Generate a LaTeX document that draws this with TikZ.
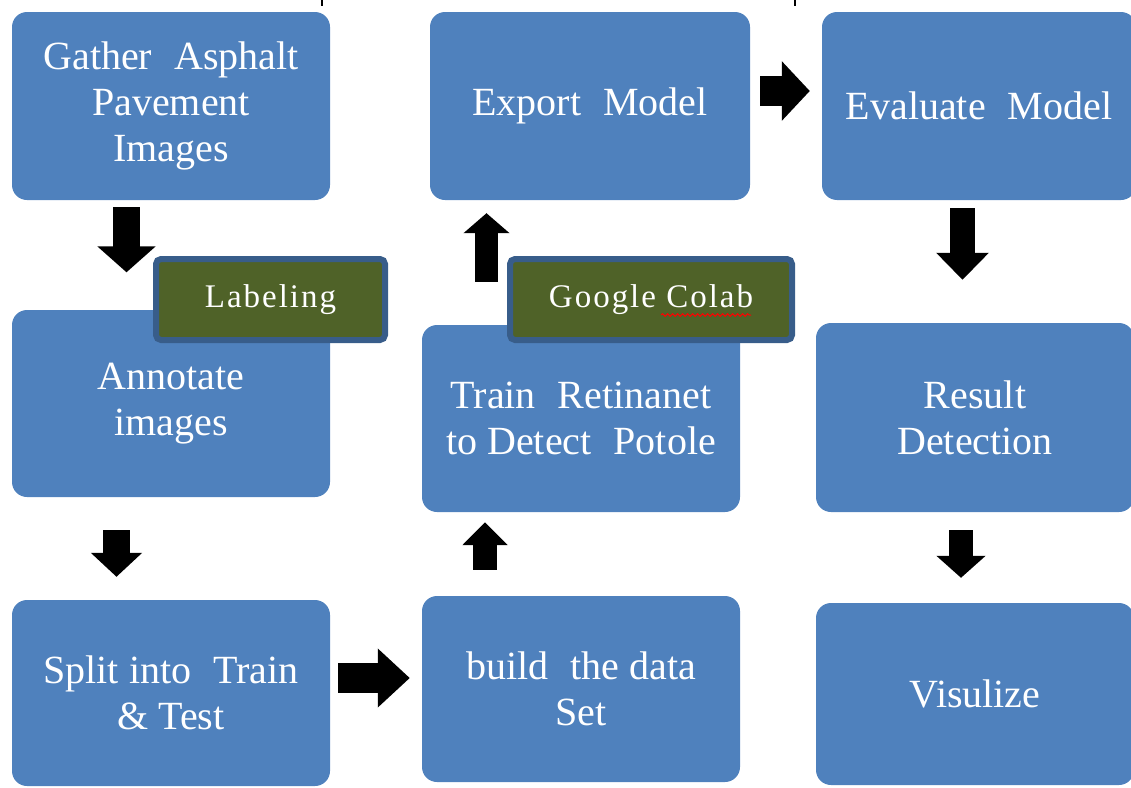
\documentclass[tikz,border=0pt]{standalone}
\usepackage{fontspec}
\setmainfont{Liberation Serif}
\newfontfamily\labfont[LetterSpace=6]{Liberation Serif}
\usetikzlibrary{arrows.meta,calc,decorations.pathmorphing}
\definecolor{boxblue}{HTML}{4F81BD}
\definecolor{olive}{HTML}{4F6228}
\definecolor{edgeblue}{HTML}{385D8A}
\tikzset{
  stepbox/.style={rectangle, rounded corners=15pt, fill=boxblue, draw=none,
    text=white, align=center, inner sep=0pt,
    font=\fontsize{40}{46}\selectfont},
  tagbox/.style={rectangle, rounded corners=5pt, fill=olive, draw=edgeblue,
    line width=6pt, text=white, align=center, inner sep=0pt,
    minimum height=81pt, font=\labfont\fontsize{33}{36}\selectfont},
  barrow/.style n args={3}{draw=black, line width=#1pt,
    -{Triangle[width=#2pt,length=#3pt]}}
}
\begin{document}
\begin{tikzpicture}[x=1pt,y=-1pt]
\useasboundingbox (0,0) rectangle (1131,787);
\begin{scope}
\clip (0,0) rectangle (1131,787);
% top edge marks
\draw[line width=1.5pt] (322,0) -- (322,6);
\draw[line width=1.5pt] (795,0) -- (795,6);
% step boxes
\node[stepbox, minimum width=318pt, minimum height=188pt] (gather) at (171,106)
  {Gather\hspace{0.3em} Asphalt\\Pavement\\Images};
\node[stepbox, minimum width=318pt, minimum height=187pt] (annot) at (171,403.5)
  {Annotate\\images};
\node[stepbox, minimum width=318pt, minimum height=186pt] (split) at (171,693)
  {Split into\hspace{0.3em} Train\\\& Test};
\node[stepbox, minimum width=320pt, minimum height=188pt] (export) at (590,106)
  {Export\hspace{0.3em} Model};
\node[stepbox, minimum width=318pt, minimum height=187pt] (train) at (581,418.5)
  {Train\hspace{0.3em} Retinanet\\to Detect\hspace{0.3em} Potole};
\node[stepbox, minimum width=318pt, minimum height=186pt] (build) at (581,689)
  {build\hspace{0.3em} the data\\Set};
\node[stepbox, minimum width=314pt, minimum height=188pt] (eval) at (979,106)
  {Evaluate\hspace{0.3em} Model};
\node[stepbox, minimum width=318pt, minimum height=189pt] (result) at (975,417.5)
  {Result\\Detection};
\node[stepbox, minimum width=318pt, minimum height=182pt] (vis) at (975,694)
  {Visulize};
% block arrows
\draw[barrow={27}{57}{26}] ($(gather.south)+(-44.5,7)$) -- ($(annot.north)+(-44.5,-37.5)$);
\draw[barrow={27}{50}{24}] ($(annot.south)+(-54.5,33)$) -- ($(split.north)+(-54.5,-23)$);
\draw[barrow={30}{57}{32}] ($(split.east)+(8,-15)$) -- ($(build.west)+(-12,-11)$);
\draw[barrow={24}{44}{23}] ($(build.north)+(-96,-26)$) -- ($(train.south)+(-96,10)$);
\draw[barrow={23}{45}{20}] ($(train.north)+(-94.5,-43)$) -- ($(export.south)+(-103.5,13)$);
\draw[barrow={30}{58}{28}] ($(export.east)+(10,-15)$) -- ($(eval.west)+(-12,-15)$);
\draw[barrow={25}{51}{27}] ($(eval.south)+(-16.5,8)$) -- ($(result.north)+(-12.5,-43)$);
\draw[barrow={24}{48}{22}] ($(result.south)+(-14,18)$) -- ($(vis.north)+(-14,-25)$);
% tag boxes
\node[tagbox, minimum width=229pt] (labeling) at (270.5,299.5) {Labeling};
\node[tagbox, minimum width=282pt] (colab) at (651,299.5) {Google Colab};
\draw[red, line width=1pt, decorate, decoration={snake, amplitude=1.3pt, segment length=5pt}]
  ($(colab.center)+(10,15.5)$) -- ($(colab.center)+(100,15.5)$);
\end{scope}
\end{tikzpicture}
\end{document}
